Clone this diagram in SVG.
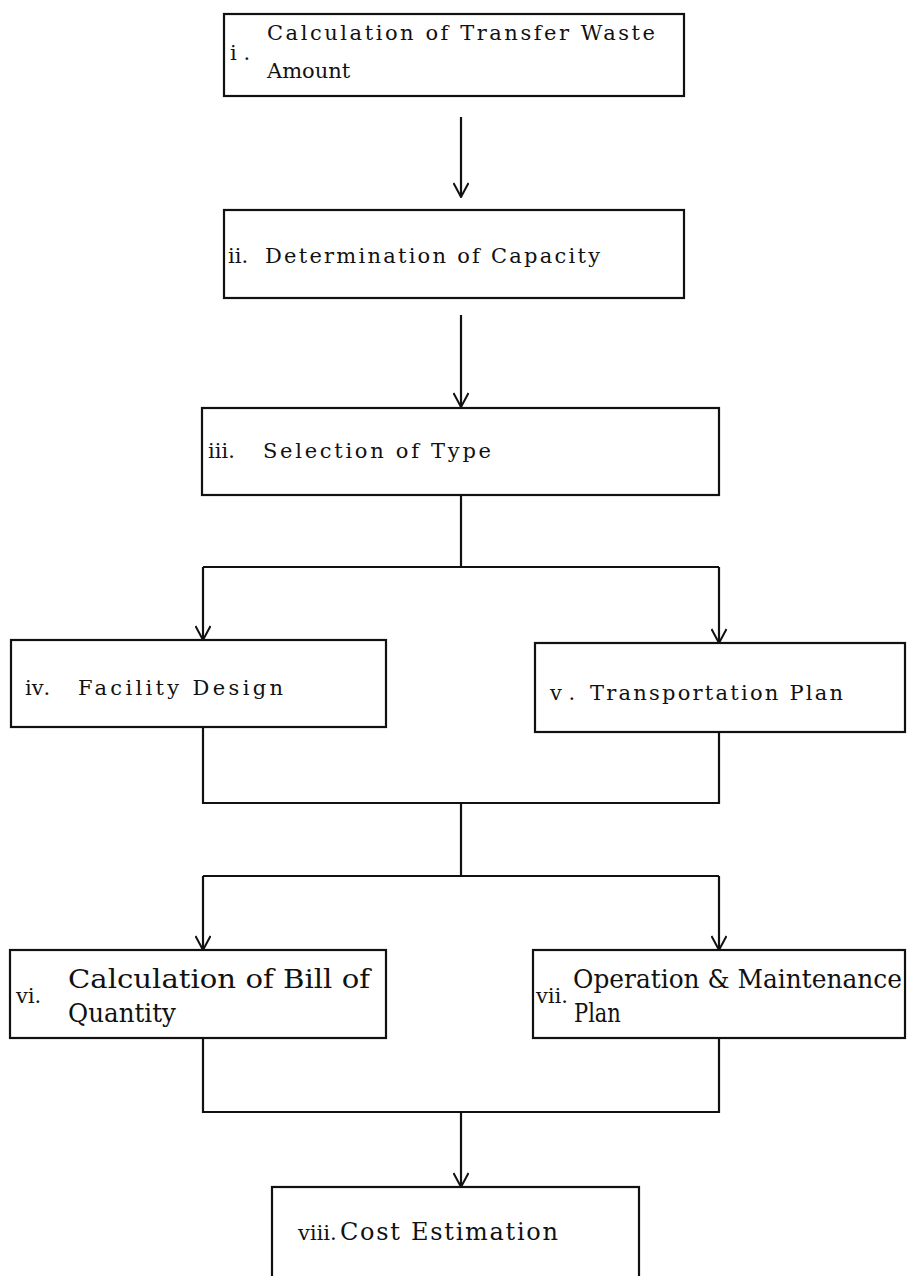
<svg xmlns="http://www.w3.org/2000/svg" width="909" height="1276" viewBox="0 0 909 1276">
<style>
.box{fill:#fff;stroke:#111;stroke-width:2.2}
.ln{fill:none;stroke:#111;stroke-width:2.2}
.t{font-family:"DejaVu Serif","Liberation Serif","Noto Sans CJK JP",serif;font-size:21px;fill:#111}
.n{font-family:"DejaVu Serif","Liberation Serif","Noto Sans CJK JP",serif;font-size:21px;fill:#111}
</style>
<defs>
<marker id="ah" viewBox="0 0 16 16" refX="15" refY="8" markerWidth="16" markerHeight="16" markerUnits="userSpaceOnUse" orient="auto">
<path d="M1,0.5 L15,8 L1,15.5" fill="none" stroke="#111" stroke-width="2"/>
</marker>
</defs>
<rect width="909" height="1276" fill="#fff"/>
<g id="connectors">
<line class="ln" x1="461" y1="117" x2="461" y2="197" marker-end="url(#ah)"/>
<line class="ln" x1="461" y1="315" x2="461" y2="407" marker-end="url(#ah)"/>
<polyline class="ln" points="461,495 461,567"/>
<polyline class="ln" points="203,567 719,567"/>
<line class="ln" x1="203" y1="567" x2="203" y2="640" marker-end="url(#ah)"/>
<line class="ln" x1="719" y1="567" x2="719" y2="643" marker-end="url(#ah)"/>
<polyline class="ln" points="203,727 203,803 719,803 719,732"/>
<polyline class="ln" points="461,803 461,876"/>
<polyline class="ln" points="203,876 719,876"/>
<line class="ln" x1="203" y1="876" x2="203" y2="950" marker-end="url(#ah)"/>
<line class="ln" x1="719" y1="876" x2="719" y2="950" marker-end="url(#ah)"/>
<polyline class="ln" points="203,1038 203,1112 719,1112 719,1038"/>
<line class="ln" x1="461" y1="1112" x2="461" y2="1187" marker-end="url(#ah)"/>
</g>
<g id="node-i">
<rect class="box" x="224" y="14" width="460" height="82"/>
<text class="n" x="230" y="60">ⅰ .</text>
<text class="t" x="267" y="40" textLength="388" lengthAdjust="spacing">Calculation of Transfer Waste</text>
<text class="t" x="267" y="78">Amount</text>
</g>
<g id="node-ii">
<rect class="box" x="224" y="210" width="460" height="88"/>
<text class="n" x="228" y="263">ⅱ.</text>
<text class="t" x="265" y="263" textLength="335" lengthAdjust="spacing">Determination of Capacity</text>
</g>
<g id="node-iii">
<rect class="box" x="202" y="408" width="517" height="87"/>
<text class="n" x="208" y="458">ⅲ.</text>
<text class="t" x="263" y="458" textLength="228" lengthAdjust="spacing">Selection of Type</text>
</g>
<g id="node-iv">
<rect class="box" x="11" y="640" width="375" height="87"/>
<text class="n" x="25" y="695">ⅳ.</text>
<text class="t" x="78" y="695" textLength="205" lengthAdjust="spacing">Facility Design</text>
</g>
<g id="node-v">
<rect class="box" x="535" y="643" width="370" height="89"/>
<text class="n" x="550" y="700">ⅴ .</text>
<text class="t" x="590" y="700" textLength="253" lengthAdjust="spacing">Transportation Plan</text>
</g>
<g id="node-vi">
<rect class="box" x="10" y="950" width="376" height="88"/>
<text class="n" x="16" y="1003">ⅵ.</text>
<text class="t" transform="translate(68,988) scale(1,1.25)" textLength="302" lengthAdjust="spacingAndGlyphs">Calculation of Bill of</text>
<text class="t" transform="translate(68,1022) scale(1,1.25)" textLength="108" lengthAdjust="spacingAndGlyphs">Quantity</text>
</g>
<g id="node-vii">
<rect class="box" x="533" y="950" width="372" height="88"/>
<text class="n" x="536" y="1003">ⅶ.</text>
<text class="t" transform="translate(573,988) scale(1,1.25)" textLength="329" lengthAdjust="spacingAndGlyphs">Operation &amp; Maintenance</text>
<text class="t" transform="translate(574,1022) scale(1,1.25)">Plan</text>
</g>
<g id="node-viii">
<rect class="box" x="272" y="1187" width="367" height="110"/>
<text class="n" x="298" y="1240">ⅷ.</text>
<text class="t" style="font-size:24px" x="340" y="1240" textLength="218" lengthAdjust="spacing">Cost Estimation</text>
</g>
</svg>
